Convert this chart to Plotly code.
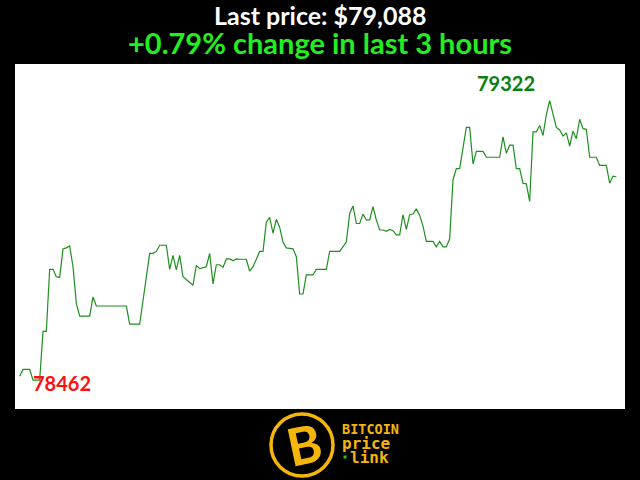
import plotly.graph_objects as go

minutes = [0, 1, 3, 4, 6, 7, 8, 9, 10, 11, 12, 13, 14, 15, 16, 17, 18, 21, 22, 23,
           32, 33, 36, 38, 39, 40, 41, 42, 44, 45, 46, 47, 48, 49, 52, 53, 54, 56, 57, 58,
           59, 60, 61, 62, 63, 64, 65, 66, 68, 69, 70, 71, 72, 73, 74, 75, 76, 77, 78, 79,
           80, 82, 83, 84, 85, 86, 88, 89, 92, 93, 96, 98, 99, 100, 101, 102, 103, 104, 105, 106,
           107, 108, 109, 110, 111, 112, 113, 114, 115, 116, 117, 118, 119, 120, 121, 122, 124, 125, 126, 127,
           128, 129, 130, 131, 132, 134, 135, 136, 137, 139, 140, 144, 145, 146, 147, 148, 149, 150, 151, 152,
           153, 154, 155, 156, 157, 158, 159, 161, 162, 163, 164, 165, 166, 167, 168, 169, 170, 171, 173, 174,
           176, 177, 178, 179]

prices = [78474, 78495, 78495, 78462, 78462, 78612, 78612, 78803, 78803, 78780, 78778, 78866, 78869, 78875, 78811, 78698, 78659, 78659, 78718, 78690,
          78690, 78634, 78634, 78791, 78852, 78852, 78858, 78877, 78877, 78803, 78846, 78801, 78846, 78780, 78754, 78815, 78805, 78811, 78852, 78758,
          78817, 78817, 78809, 78835, 78835, 78829, 78835, 78834, 78834, 78797, 78811, 78834, 78858, 78858, 78948, 78963, 78914, 78957, 78932, 78887,
          78869, 78866, 78842, 78727, 78727, 78786, 78786, 78803, 78803, 78858, 78858, 78887, 78975, 78998, 78944, 78944, 78973, 78955, 78955, 78996,
          78955, 78924, 78924, 78920, 78926, 78922, 78909, 78909, 78971, 78926, 78971, 78973, 78989, 78969, 78936, 78889, 78889, 78872, 78889, 78872,
          78872, 78897, 79078, 79113, 79113, 79240, 79240, 79127, 79166, 79166, 79148, 79148, 79211, 79160, 79185, 79185, 79113, 79113, 79068, 79066,
          79012, 79226, 79226, 79246, 79215, 79279, 79322, 79240, 79232, 79213, 79223, 79182, 79228, 79205, 79265, 79236, 79234, 79148, 79148, 79123,
          79123, 79068, 79090, 79088]

title_line1 = "Last price: $79,088"
title_line2 = "+0.79% change in last 3 hours"
logo_lines = ["BITCOIN", "price", "link"]

hi = max(prices)
lo = min(prices)
hi_x = minutes[prices.index(hi)]
lo_x = minutes[prices.index(lo)]

GOLD = "#f5b60a"
FONT = "Lato"

fig = go.Figure()
fig.add_trace(go.Scatter(x=minutes, y=prices, mode="lines",
                         line=dict(color="#1f8f1f", width=1.2),
                         hoverinfo="skip", showlegend=False))

fig.add_annotation(x=hi_x, y=hi, xref="x", yref="y", text=f"<b>{hi}</b>",
                   showarrow=False, xanchor="center", yanchor="middle",
                   xshift=-44, yshift=18,
                   font=dict(family=FONT, size=20, color="#0a800a"))
fig.add_annotation(x=lo_x, y=lo, xref="x", yref="y", text=f"<b>{lo}</b>",
                   showarrow=False, xanchor="left", yanchor="middle",
                   xshift=-2, yshift=-3,
                   font=dict(family=FONT, size=20, color="#ff1010"))

# titles
fig.add_annotation(x=0.5, y=(409 - 15) / 345, xref="paper", yref="paper",
                   text=f"<b>{title_line1}</b>", showarrow=False,
                   xanchor="center", yanchor="middle",
                   font=dict(family=FONT, size=25, color="white"))
fig.add_annotation(x=0.5, y=(409 - 42) / 345, xref="paper", yref="paper",
                   text=f"<b>{title_line2}</b>", showarrow=False,
                   xanchor="center", yanchor="middle",
                   font=dict(family=FONT, size=29, color="#22ee22"))

# logo
def px(xp):
    return (xp - 15) / 610

def py(yp):
    return (409 - yp) / 345

fig.add_shape(type="circle", xref="paper", yref="paper",
              x0=px(271), x1=px(333), y0=py(476), y1=py(414),
              line=dict(color=GOLD, width=3.5), fillcolor="black")
fig.add_annotation(x=px(304), y=py(444), xref="paper", yref="paper",
                   text="<b>B</b>", showarrow=False, textangle=-12,
                   xanchor="center", yanchor="middle",
                   font=dict(family="Lato", size=52, color=GOLD))
logo_sizes = [13.5, 16, 16]
logo_x = [340, 340, 348]
for t, yy, sz, xx in zip(logo_lines, [429, 443, 457], logo_sizes, logo_x):
    fig.add_annotation(x=px(xx), y=py(yy), xref="paper", yref="paper",
                       text=f"<b>{t}</b>", showarrow=False,
                       xanchor="left", yanchor="middle",
                       font=dict(family="DejaVu Sans Mono", size=sz, color=GOLD))
fig.add_shape(type="rect", xref="paper", yref="paper",
              x0=px(343.5), x1=px(346.5), y0=py(458.5), y1=py(455.5),
              line=dict(width=0), fillcolor="#22cc22")

fig.update_xaxes(range=[-1.4, 181.6], visible=False, showgrid=False, zeroline=False)
fig.update_yaxes(range=[78373, 79435], visible=False, showgrid=False, zeroline=False)
fig.update_layout(width=640, height=480,
                  margin=dict(l=15, r=15, t=64, b=71),
                  paper_bgcolor="black", plot_bgcolor="white",
                  showlegend=False)

fig.write_html("out.html", config={"displayModeBar": False},
               post_script="document.body.style.margin='0';document.body.style.background='black';")
